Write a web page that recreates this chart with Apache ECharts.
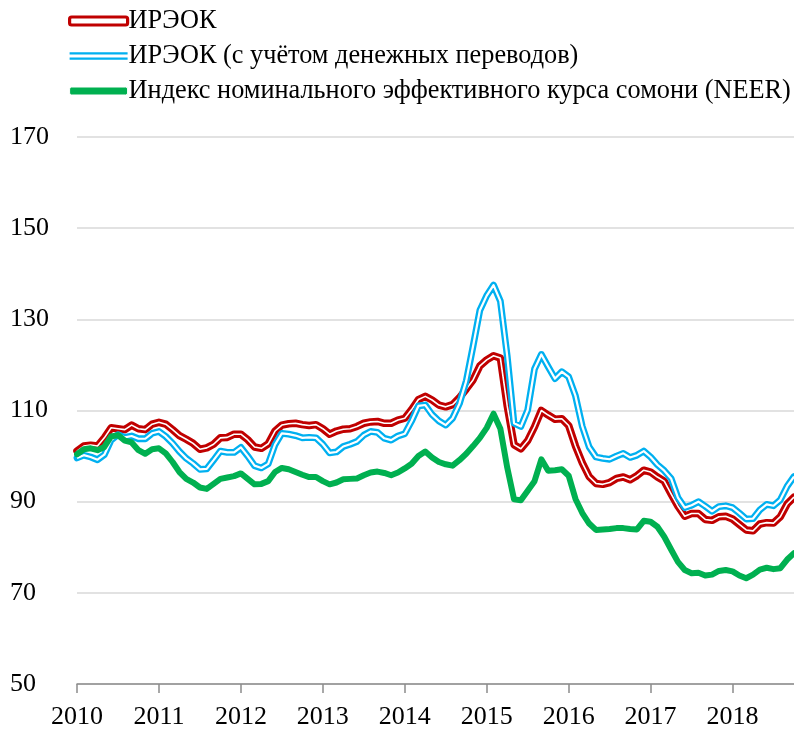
<!DOCTYPE html>
<html>
<head>
<meta charset="utf-8">
<script src="https://cdn.jsdelivr.net/npm/echarts@6/dist/echarts.min.js"></script>
<style>
html,body{margin:0;padding:0;background:#fff;}
#chart{width:794px;height:734px;}
</style>
</head>
<body>
<div id="chart"></div>
<script>
// Monthly categories, Jan 2010 - Oct 2018
const months = [
 '2010-01','2010-02','2010-03','2010-04','2010-05','2010-06','2010-07','2010-08','2010-09','2010-10','2010-11','2010-12',
 '2011-01','2011-02','2011-03','2011-04','2011-05','2011-06','2011-07','2011-08','2011-09','2011-10','2011-11','2011-12',
 '2012-01','2012-02','2012-03','2012-04','2012-05','2012-06','2012-07','2012-08','2012-09','2012-10','2012-11','2012-12',
 '2013-01','2013-02','2013-03','2013-04','2013-05','2013-06','2013-07','2013-08','2013-09','2013-10','2013-11','2013-12',
 '2014-01','2014-02','2014-03','2014-04','2014-05','2014-06','2014-07','2014-08','2014-09','2014-10','2014-11','2014-12',
 '2015-01','2015-02','2015-03','2015-04','2015-05','2015-06','2015-07','2015-08','2015-09','2015-10','2015-11','2015-12',
 '2016-01','2016-02','2016-03','2016-04','2016-05','2016-06','2016-07','2016-08','2016-09','2016-10','2016-11','2016-12',
 '2017-01','2017-02','2017-03','2017-04','2017-05','2017-06','2017-07','2017-08','2017-09','2017-10','2017-11','2017-12',
 '2018-01','2018-02','2018-03','2018-04','2018-05','2018-06','2018-07','2018-08','2018-09','2018-10'
];

const seriesNames = [
 'ИРЭОК',
 'ИРЭОК (с учётом денежных переводов)',
 'Индекс номинального эффективного курса сомони (NEER)'
];

// ИРЭОК
const reer = [
 101.1,102.2,102.4,102.2,104.0,106.2,106.0,105.8,106.8,106.0,105.8,107.0,
 107.4,107.0,105.8,104.5,103.7,102.8,101.5,101.8,102.6,104.0,104.1,104.8,
 104.8,103.6,102.0,101.7,102.7,105.5,106.8,107.1,107.2,106.9,106.7,106.9,
 106.0,104.8,105.5,105.9,106.0,106.5,107.2,107.5,107.6,107.2,107.2,107.9,
 108.3,110.2,112.4,113.1,112.3,111.2,110.8,111.3,112.8,114.7,116.7,119.8,
 121.1,122.0,121.5,111.0,102.5,101.6,103.4,106.4,110.0,109.0,108.1,108.2,
 106.7,102.2,98.5,95.5,94.0,93.8,94.2,95.1,95.4,94.8,95.7,96.9,
 96.5,95.4,94.5,91.7,89.0,86.8,87.4,87.4,86.1,85.9,86.7,86.8,
 86.2,85.0,83.8,83.6,85.1,85.4,85.3,86.7,89.5,91.0
];

// ИРЭОК с учётом денежных переводов
const reerRemit = [
 99.6,100.2,99.8,99.2,100.3,103.5,104.7,104.1,104.4,103.8,103.8,105.0,
 105.4,104.3,102.8,101.0,99.5,98.4,97.1,97.2,99.1,101.1,100.8,100.8,
 101.9,100.0,97.9,97.4,98.3,102.5,105.0,104.8,104.5,104.0,104.1,104.0,
 102.6,100.7,100.9,102.1,102.6,103.2,104.6,105.4,105.2,103.9,103.5,104.4,
 104.9,107.7,111.0,111.2,109.1,107.7,106.8,108.3,111.5,116.5,124.1,132.0,
 135.2,137.5,134.0,122.0,107.2,106.5,110.1,119.1,122.3,119.6,117.0,118.5,
 117.4,113.2,106.5,102.0,99.8,99.5,99.3,100.0,100.6,99.7,100.2,101.1,
 99.8,98.1,96.8,95.1,90.9,88.7,89.2,90.0,89.0,87.9,88.9,89.1,
 88.7,87.5,86.2,86.3,88.2,89.4,89.1,90.4,93.4,95.5
];

// NEER
const neer = [
 100.4,101.5,101.7,101.3,102.0,104.3,104.6,103.4,103.0,101.3,100.5,101.5,
 101.7,100.6,98.7,96.5,95.0,94.2,93.1,92.8,93.9,95.0,95.3,95.6,
 96.2,95.0,93.8,93.9,94.5,96.5,97.4,97.1,96.5,95.9,95.4,95.4,
 94.5,93.8,94.2,94.9,95.0,95.1,95.8,96.4,96.6,96.3,95.8,96.4,
 97.3,98.3,100.0,101.0,99.7,98.7,98.2,97.9,99.1,100.5,102.2,104.0,
 106.2,109.3,106.0,97.5,90.5,90.3,92.4,94.5,99.3,96.8,96.9,97.1,
 95.7,90.6,87.5,85.2,83.8,83.9,84.0,84.2,84.2,84.0,83.9,85.8,
 85.6,84.5,82.3,79.5,76.8,75.0,74.3,74.4,73.8,74.0,74.8,75.0,
 74.7,73.8,73.2,74.0,75.1,75.5,75.2,75.4,77.3,78.7
];

const yTicks = {min: 50, max: 170, step: 20};

const FONT = '"Liberation Serif", "DejaVu Serif", serif';
const RED = '#C00000', BLUE = '#00B0F0', GREEN = '#00B050';

const chart = echarts.init(document.getElementById('chart'), null, {renderer: 'canvas'});
const yearTick = (idx) => idx % 12 === 0;

chart.setOption({
  animation: false,
  backgroundColor: '#fff',
  textStyle: {fontFamily: FONT},
  legend: {
    orient: 'vertical',
    left: 68,
    top: 8,
    padding: 0,
    itemWidth: 58,
    itemHeight: 8,
    itemGap: 9,
    textStyle: {fontFamily: FONT, fontSize: 26.3, color: '#000', padding: [0, 0, 0, -4]},
    data: [
      {name: seriesNames[0], icon: 'roundRect', itemStyle: {color: '#fff', borderColor: RED, borderWidth: 3.2}},
      {name: seriesNames[1], icon: 'path://M0,0H60V2.5H0Z M0,5.5H60V8H0Z', itemStyle: {color: BLUE, borderWidth: 0}},
      {name: seriesNames[2], icon: 'roundRect', itemStyle: {color: GREEN, borderColor: '#fff', borderWidth: 1}}
    ]
  },
  grid: {left: 77, right: 0, top: 137, bottom: 50, containLabel: false},
  xAxis: {
    type: 'category',
    data: months,
    boundaryGap: false,
    axisLine: {lineStyle: {color: '#8c8c8c', width: 1.5}},
    axisTick: {show: true, interval: yearTick, length: 9, lineStyle: {color: '#8c8c8c', width: 1.5}},
    axisLabel: {
      interval: yearTick,
      formatter: (v) => v.slice(0, 4),
      fontFamily: FONT, fontSize: 26, color: '#000', margin: 20
    },
    splitLine: {show: false}
  },
  yAxis: {
    type: 'value',
    min: yTicks.min, max: yTicks.max, interval: yTicks.step,
    axisLine: {show: false},
    axisTick: {show: false},
    axisLabel: {fontFamily: FONT, fontSize: 26, color: '#000', align: 'left', margin: 67},
    splitLine: {lineStyle: {color: '#d9d9d9', width: 1.5}}
  },
  series: [
    {name: seriesNames[0], type: 'line', data: reer, symbol: 'none', smooth: false,
     lineStyle: {color: RED, width: 7.5, join: 'round', cap: 'round'}, itemStyle: {color: RED}},
    {name: 'reer_inner', type: 'line', data: reer, symbol: 'none', silent: true,
     lineStyle: {color: '#fff', width: 1.6, join: 'round'}},
    {name: seriesNames[1], type: 'line', data: reerRemit, symbol: 'none',
     lineStyle: {color: BLUE, width: 6.8, join: 'round', cap: 'round'}, itemStyle: {color: BLUE}},
    {name: 'remit_inner', type: 'line', data: reerRemit, symbol: 'none', silent: true,
     lineStyle: {color: '#fff', width: 2.2, join: 'round'}},
    {name: seriesNames[2], type: 'line', data: neer, symbol: 'none',
     lineStyle: {color: GREEN, width: 6, join: 'round', cap: 'round'}, itemStyle: {color: GREEN}}
  ]
});
</script>
</body>
</html>
